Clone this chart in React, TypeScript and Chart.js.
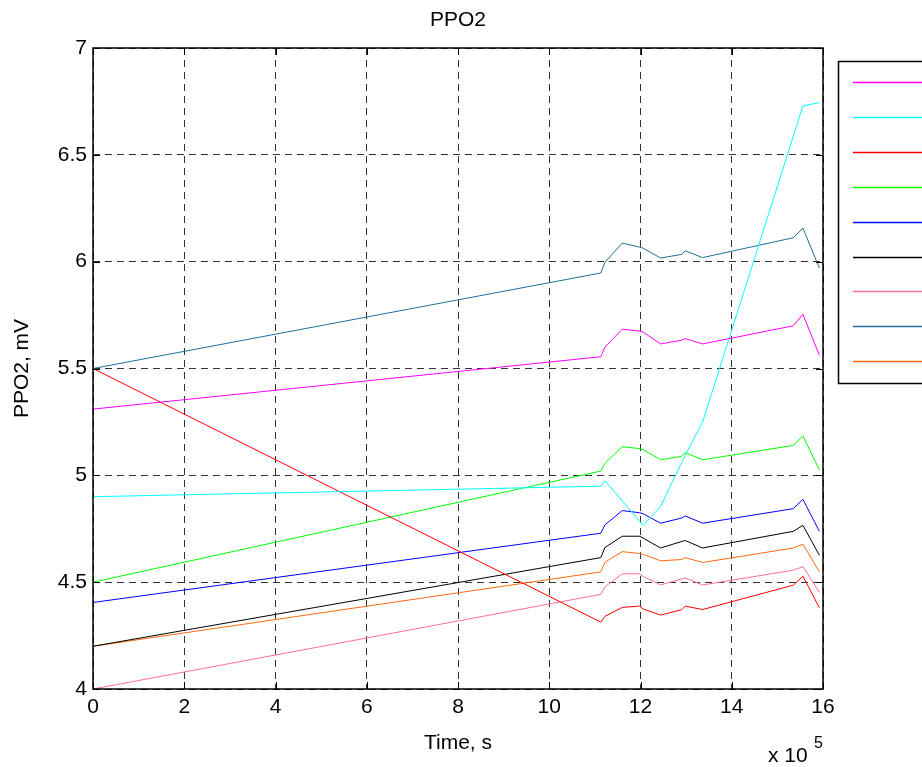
import React, { useEffect, useRef } from "react";
import { Chart, registerables } from "chart.js";

Chart.register(...registerables);

// Time in units of 10^5 s
const timeValues = [0, 11.13, 11.22, 11.6, 11.98, 12.06, 12.44, 12.9, 12.98, 13.36, 15.35, 15.56, 15.92];

const seriesMagenta = [5.31, 5.555, 5.6, 5.684, 5.675, 5.67, 5.615, 5.632, 5.64, 5.615, 5.7, 5.754, 5.562];
const seriesCyan = [4.9, 4.949, 4.975, 4.88, 4.786, 4.766, 4.854, 5.059, 5.093, 5.249, 6.588, 6.729, 6.744];
const seriesRed = [5.5, 4.313, 4.34, 4.382, 4.388, 4.374, 4.346, 4.371, 4.388, 4.372, 4.486, 4.528, 4.38];
const seriesGreen = [4.5, 5.02, 5.056, 5.134, 5.125, 5.12, 5.073, 5.089, 5.106, 5.073, 5.14, 5.185, 5.025];
const seriesBlue = [4.405, 4.729, 4.768, 4.835, 4.825, 4.82, 4.776, 4.8, 4.81, 4.776, 4.844, 4.888, 4.738];
const seriesBlack = [4.2, 4.615, 4.662, 4.715, 4.715, 4.706, 4.66, 4.69, 4.695, 4.66, 4.738, 4.766, 4.626];
const seriesPink = [4.0, 4.443, 4.478, 4.539, 4.539, 4.527, 4.487, 4.515, 4.52, 4.487, 4.556, 4.573, 4.452];
const seriesTeal = [5.5, 5.947, 5.997, 6.087, 6.068, 6.063, 6.017, 6.034, 6.051, 6.019, 6.112, 6.157, 5.97];
const seriesOrange = [4.2, 4.548, 4.593, 4.643, 4.634, 4.63, 4.6, 4.606, 4.615, 4.592, 4.66, 4.678, 4.548];

const seriesList = [seriesMagenta, seriesCyan, seriesRed, seriesGreen, seriesBlue, seriesBlack, seriesPink, seriesTeal, seriesOrange];
const seriesColors = ["#ff00ff", "#00ffff", "#ff0000", "#00ff00", "#0000ff", "#000000", "#ff6f9a", "#1f6e98", "#ff6a10"];

const chartTitle = "PPO2";
const xTitle = "Time, s";
const yTitle = "PPO2, mV";
const xExponent = "5";

const FONT = "'Liberation Sans', Arial, sans-serif";

const decorPlugin = {
  id: "decor",
  afterDatasetsDraw(chart: any) {
    const { ctx, chartArea, scales } = chart;
    const { left, right, top, bottom } = chartArea;
    ctx.save();
    // inward tick marks
    ctx.strokeStyle = "#000";
    ctx.lineWidth = 1;
    const tl = 7;
    scales.x.ticks.forEach((t: any) => {
      const px = Math.round(scales.x.getPixelForValue(t.value)) + 0.5;
      ctx.beginPath();
      ctx.moveTo(px, bottom);
      ctx.lineTo(px, bottom - tl);
      ctx.moveTo(px, top);
      ctx.lineTo(px, top + tl);
      ctx.stroke();
    });
    scales.y.ticks.forEach((t: any) => {
      const py = Math.round(scales.y.getPixelForValue(t.value)) + 0.5;
      ctx.beginPath();
      ctx.moveTo(left, py);
      ctx.lineTo(left + tl, py);
      ctx.moveTo(right, py);
      ctx.lineTo(right - tl, py);
      ctx.stroke();
    });
    // frame
    ctx.lineWidth = 1.5;
    ctx.strokeRect(left, top, right - left, bottom - top);

    // title
    ctx.fillStyle = "#000";
    ctx.font = `21px ${FONT}`;
    ctx.textAlign = "center";
    ctx.textBaseline = "middle";
    ctx.fillText(chartTitle, (left + right) / 2, 20);

    // exponent label
    ctx.textAlign = "left";
    ctx.textBaseline = "alphabetic";
    ctx.font = `21px ${FONT}`;
    ctx.fillText("x 10", 768, 762);
    ctx.font = `16px ${FONT}`;
    ctx.fillText(xExponent, 814, 748);

    // legend box (lines only)
    const bx = 838.5;
    const by = 61.5;
    const bw = 140;
    const bh = 322;
    ctx.fillStyle = "#fff";
    ctx.fillRect(bx, by, bw, bh);
    ctx.strokeStyle = "#000";
    ctx.lineWidth = 1.5;
    ctx.strokeRect(bx, by, bw, bh);
    chart.data.datasets.forEach((ds: any, i: number) => {
      const ly = Math.round(82 + i * 34.9) + 0.5;
      ctx.strokeStyle = ds.borderColor;
      ctx.lineWidth = 1.6;
      ctx.beginPath();
      ctx.moveTo(853, ly);
      ctx.lineTo(930, ly);
      ctx.stroke();
    });
    ctx.restore();
  },
};

export default function App() {
  const ref = useRef<HTMLCanvasElement | null>(null);

  useEffect(() => {
    document.body.style.margin = "0";
    const canvas = ref.current;
    if (!canvas) return;
    const datasets = seriesList.map((vals, i) => ({
      label: "",
      data: vals.map((v, j) => ({ x: timeValues[j], y: v })),
      borderColor: seriesColors[i],
      backgroundColor: seriesColors[i],
      borderWidth: 1,
      pointRadius: 0,
      fill: false,
      tension: 0,
    }));
    const chart = new Chart(canvas, {
      type: "line",
      data: { datasets },
      plugins: [decorPlugin],
      options: {
        responsive: false,
        animation: false,
        layout: { padding: { left: 0, right: 99, top: 48, bottom: 0 } },
        plugins: {
          legend: { display: false },
          title: { display: false },
          tooltip: { enabled: false },
        },
        scales: {
          x: {
            type: "linear",
            min: 0,
            max: 16,
            afterFit: (s: any) => {
              s.height = 78;
            },
            ticks: {
              stepSize: 2,
              color: "#000",
              font: { family: FONT, size: 21 },
              padding: 6,
              maxRotation: 0,
            },
            grid: { color: "rgba(0,0,0,0.8)", lineWidth: 1, drawTicks: false },
            border: { display: false, dash: [7, 5] },
            title: {
              display: true,
              text: xTitle,
              color: "#000",
              font: { family: FONT, size: 21 },
              padding: { top: 0, bottom: 11 },
            },
          },
          y: {
            type: "linear",
            min: 4,
            max: 7,
            afterFit: (s: any) => {
              s.width = 93;
            },
            ticks: {
              stepSize: 0.5,
              color: "#000",
              font: { family: FONT, size: 21 },
              padding: 6,
              callback: (v: any) => String(v),
            },
            grid: { color: "rgba(0,0,0,0.8)", lineWidth: 1, drawTicks: false },
            border: { display: false, dash: [7, 5] },
            title: {
              display: true,
              text: yTitle,
              color: "#000",
              font: { family: FONT, size: 21 },
              padding: { top: 10, bottom: 0 },
            },
          },
        },
      } as any,
    });
    return () => chart.destroy();
  }, []);

  return <canvas ref={ref} width={922} height={767} style={{ display: "block" }} />;
}
